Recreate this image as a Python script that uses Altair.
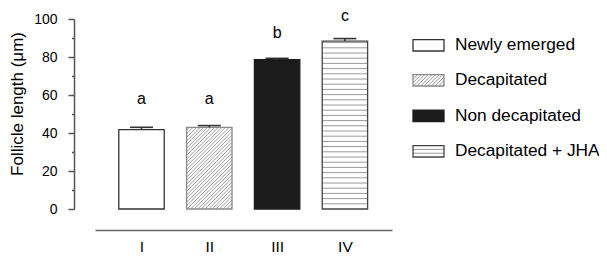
import altair as alt
import pandas as pd

# ---- data ----
groups = ["I", "II", "III", "IV"]
treatments = ["Newly emerged", "Decapitated", "Non decapitated", "Decapitated + JHA"]
means = [41.8, 43.0, 78.6, 88.4]
errors = [1.2, 0.9, 0.7, 1.3]
letters = ["a", "a", "b", "c"]
letter_y = [57.7, 57.7, 92.5, 101.5]
y_ticks = list(range(0, 101, 10))

# ---- layout / style constants ----
W, H = 297, 190
D0, D1 = 0.314, 0.314 + 297 / 67.8
PX_X = W / (D1 - D0)
PX_Y = H / 100.0
HW = 22.7 / PX_X          # bar half width
CAP = 11.5 / PX_X         # error cap half width
FONT = "Liberation Sans"

fills = ["white", "white", "#1c1c1c", "white"]
strokes = ["#333333", "#8a8a8a", "#1c1c1c", "#444444"]
patterns = ["none", "diag", "none", "horiz"]

# legend placement (plot-relative pixels converted to data units)
leg_rows_px = [26.3, 61.3, 96.8, 132.3]
leg_x0 = D0 + 318 / PX_X
leg_x1 = D0 + 349 / PX_X
leg_tx = D0 + 360 / PX_X
leg_hh = 5.7 / PX_Y


def diag_hatch(x0, x1, y0, y1, step):
    segs = []
    u0, u1 = 0.0, (x1 - x0) * PX_X
    v0, v1 = 0.0, (y1 - y0) * PX_Y
    c = v0 - u1 + step / 2
    while c < v1 - u0:
        ua = max(u0, v0 - c)
        ub = min(u1, v1 - c)
        if ub > ua:
            segs.append((x0 + ua / PX_X, y0 + (ua + c) / PX_Y,
                         x0 + ub / PX_X, y0 + (ub + c) / PX_Y))
        c += step
    return segs


def horiz_hatch(x0, x1, y0, y1, step):
    segs = []
    v = step
    top = (y1 - y0) * PX_Y
    while v < top - 1:
        yy = y0 + v / PX_Y
        segs.append((x0, yy, x1, yy))
        v += step
    return segs


rects, hatch = [], []
for i, g in enumerate(groups):
    xc = i + 1
    rects.append(dict(x=xc - HW, x2=xc + HW, y=0, y2=means[i], fill=fills[i], stroke=strokes[i]))
    ly = 100 - leg_rows_px[i] / PX_Y
    rects.append(dict(x=leg_x0, x2=leg_x1, y=ly - leg_hh, y2=ly + leg_hh, fill=fills[i], stroke=strokes[i]))
    if patterns[i] == "diag":
        hatch += diag_hatch(xc - HW, xc + HW, 0, means[i], 3.6)
        hatch += diag_hatch(leg_x0, leg_x1, ly - leg_hh, ly + leg_hh, 3.6)
    elif patterns[i] == "horiz":
        hatch += horiz_hatch(xc - HW, xc + HW, 0, means[i], 5.2)
        hatch += horiz_hatch(leg_x0, leg_x1, ly - leg_hh, ly + leg_hh, 3.8)

rect_df = pd.DataFrame(rects)
hatch_df = pd.DataFrame(hatch, columns=["x", "y", "x2", "y2"])

bars_df = pd.DataFrame({
    "x": [i + 1 for i in range(4)],
    "mean": means,
    "top": [m + e for m, e in zip(means, errors)],
    "cl": [i + 1 - CAP for i in range(4)],
    "cr": [i + 1 + CAP for i in range(4)],
    "letter": letters,
    "ly": letter_y,
})
leg_df = pd.DataFrame({
    "x": [leg_tx] * 4,
    "y": [100 - p / PX_Y for p in leg_rows_px],
    "label": treatments,
})

xs = alt.Scale(domain=[D0, D1], nice=False, zero=False)
ys = alt.Scale(domain=[0, 100], nice=False)

x_axis = alt.Axis(
    values=[1, 2, 3, 4],
    labelExpr="['I','II','III','IV'][datum.value - 1]",
    ticks=False, grid=False, offset=21,
    domainColor="#666666", domainWidth=1.6,
    labelFontSize=15.5, labelFont=FONT, labelColor="black", labelPadding=9,
    labelOverlap=False, title=None,
)
y_axis = alt.Axis(
    values=y_ticks,
    labelExpr="datum.value % 20 === 0 ? datum.label : ''",
    tickSize={"condition": {"test": "datum.value % 20 === 0", "value": 6}, "value": 2.5},
    offset=21, grid=False, labelOverlap=False, labelFlush=False,
    domainColor="#555555", domainWidth=1.5, tickColor="#555555", tickWidth=1.5,
    labelFontSize=14, labelFont=FONT, labelColor="black", labelPadding=11,
    title="Follicle length (μm)", titleFont=FONT, titleFontSize=17,
    titleFontWeight="normal", titleColor="black", titlePadding=7, titleY=84.5,
)


def X(f):
    return alt.X(f, scale=xs, axis=x_axis)


def Y(f):
    return alt.Y(f, scale=ys, axis=y_axis)


fill_layer = alt.Chart(rect_df).mark_rect(strokeWidth=0).encode(
    x=X("x:Q"), x2="x2:Q", y=Y("y:Q"), y2="y2:Q",
    fill=alt.Fill("fill:N", scale=None),
)
hatch_layer = alt.Chart(hatch_df).mark_rule(color="#9a9a9a", strokeWidth=1).encode(
    x=X("x:Q"), x2="x2:Q", y=Y("y:Q"), y2="y2:Q",
)
outline_layer = alt.Chart(rect_df).mark_rect(fillOpacity=0, strokeWidth=1.3).encode(
    x=X("x:Q"), x2="x2:Q", y=Y("y:Q"), y2="y2:Q",
    stroke=alt.Stroke("stroke:N", scale=None),
)
err_v = alt.Chart(bars_df).mark_rule(color="#333333", strokeWidth=1.6).encode(
    x=X("x:Q"), y=Y("mean:Q"), y2="top:Q",
)
err_cap = alt.Chart(bars_df).mark_rule(color="#333333", strokeWidth=1.6).encode(
    x=X("cl:Q"), x2="cr:Q", y=Y("top:Q"),
)
letter_layer = alt.Chart(bars_df).mark_text(font=FONT, fontSize=16, color="black", baseline="middle").encode(
    x=X("x:Q"), y=Y("ly:Q"), text="letter:N",
)
legend_text = alt.Chart(leg_df).mark_text(font=FONT, fontSize=17.3, color="black", align="left", baseline="middle").encode(
    x=X("x:Q"), y=Y("y:Q"), text="label:N",
)

chart = alt.layer(
    fill_layer, hatch_layer, outline_layer, err_v, err_cap, letter_layer, legend_text
).properties(
    width=W, height=H,
    autosize=alt.AutoSizeParams(type="none"),
    padding={"left": 87, "top": 11, "right": 207, "bottom": 44},
).configure(background="white").configure_view(strokeWidth=0)

chart.save("out.html", embed_options={"renderer": "svg", "actions": False})
